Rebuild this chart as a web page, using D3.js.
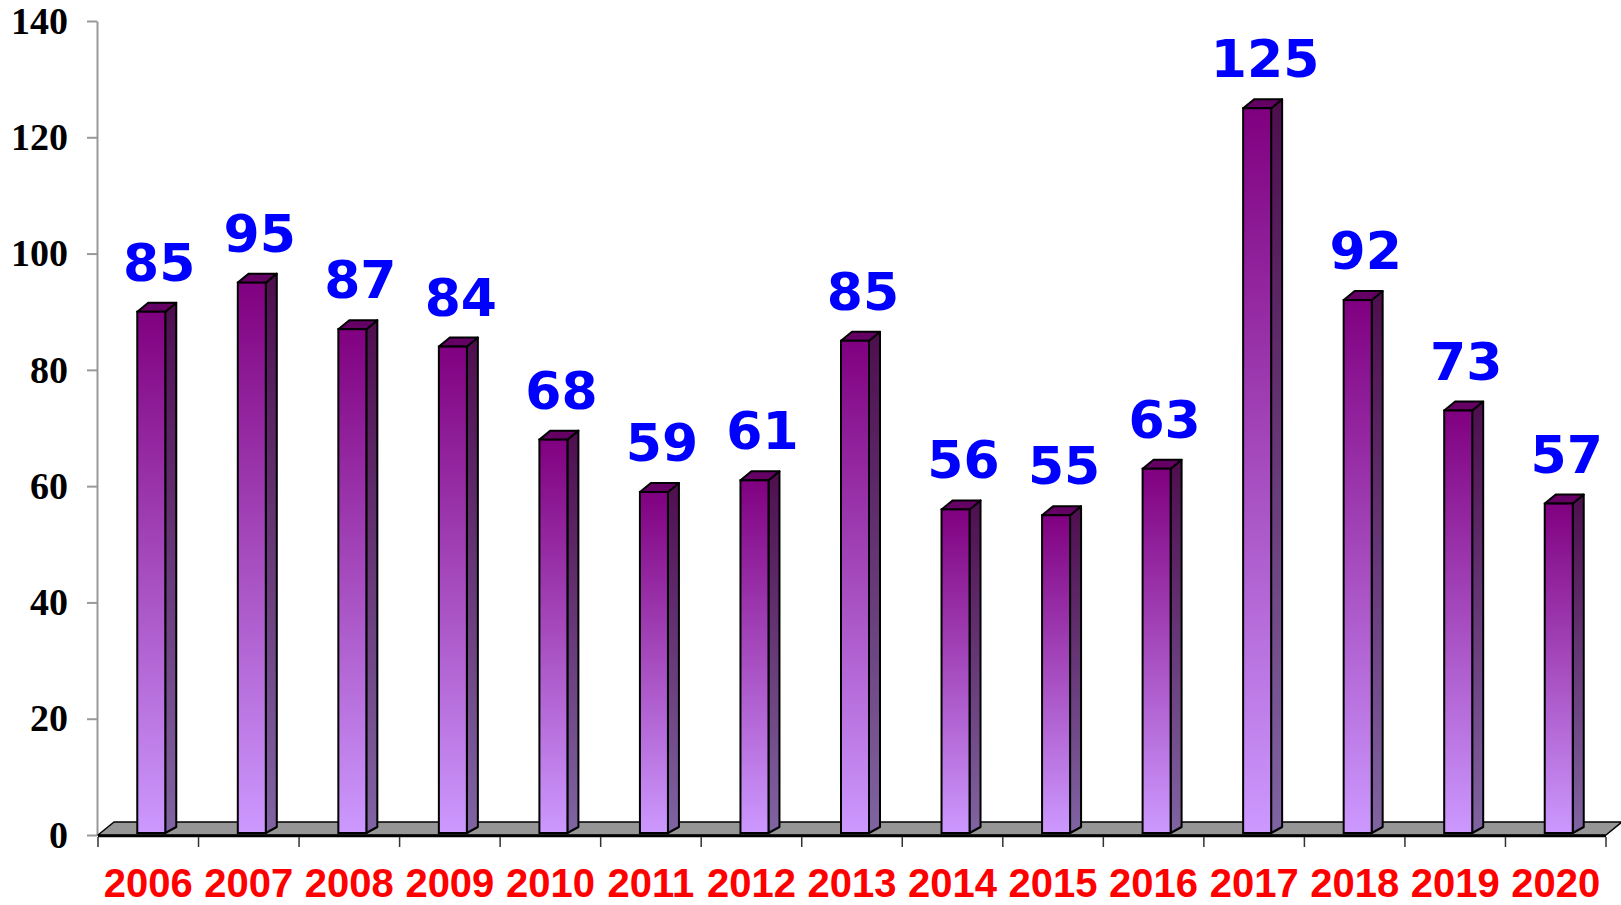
<!DOCTYPE html>
<html>
<head>
<meta charset="utf-8">
<script src="https://cdn.jsdelivr.net/npm/d3@7"></script>
<style>
html,body{margin:0;padding:0;background:#fff;}
svg{display:block;}
</style>
</head>
<body>
<svg id="chart" width="1621" height="905"></svg>
<script>
const years = ["2006","2007","2008","2009","2010","2011","2012","2013","2014","2015","2016","2017","2018","2019","2020"];
const barValues = [90,95,87,84,68,59,61,85,56,55,63,125,92,73,57];
const labelValues = [85,95,87,84,68,59,61,85,56,55,63,125,92,73,57];
const yTicks = [0,20,40,60,80,100,120,140];

const svg = d3.select("#chart");
const x0 = 98, x1 = 1606, yTop = 21, yBot = 835;
const x = d3.scaleBand().domain(years).range([x0, x1]).paddingInner(0).paddingOuter(0);
const y = d3.scaleLinear().domain([0, 140]).range([yBot, yTop]);

const defs = svg.append("defs");
const gFront = defs.append("linearGradient").attr("id","gFront").attr("x1",0).attr("y1",0).attr("x2",0).attr("y2",1);
gFront.append("stop").attr("offset","0%").attr("stop-color","#800080");
gFront.append("stop").attr("offset","100%").attr("stop-color","#CC99FF");
const gSide = defs.append("linearGradient").attr("id","gSide").attr("x1",0).attr("y1",0).attr("x2",0).attr("y2",1);
gSide.append("stop").attr("offset","0%").attr("stop-color","#4E0E4E");
gSide.append("stop").attr("offset","100%").attr("stop-color","#8064A2");

// Y axis
const yAxis = d3.axisLeft(y).tickValues(yTicks).tickSize(10).tickSizeOuter(0).tickPadding(19).tickFormat(d3.format("d"));
const ga = svg.append("g").attr("transform", `translate(${x0 - 1},0)`).call(yAxis);
ga.select(".domain").attr("stroke","#999").attr("stroke-width",2);
ga.selectAll(".tick line").attr("stroke","#999").attr("stroke-width",2);
ga.selectAll(".tick text").attr("fill","#000").style("font-family","'Liberation Serif','Times New Roman',serif")
  .style("font-weight","bold").style("font-size","38px");

// Floor
const fdx = 16, fdy = -13;
svg.append("path")
  .attr("d", `M${x0},${yBot} L${x0+fdx},${yBot+fdy} L${x1+fdx},${yBot+fdy} L${x1},${yBot} Z`)
  .attr("fill","#969696").attr("stroke","#000").attr("stroke-width",1.5).attr("stroke-linejoin","round");
svg.append("line").attr("x1",x0).attr("x2",x1).attr("y1",yBot+1).attr("y2",yBot+1)
  .attr("stroke","#000").attr("stroke-width",2.5);

// X axis ticks at band boundaries
const bounds = years.map(d => x(d)).concat([x1]);
svg.append("g").selectAll("line").data(bounds).join("line")
  .attr("x1", d => d).attr("x2", d => d).attr("y1", yBot+2).attr("y2", yBot+12)
  .attr("stroke","#333").attr("stroke-width",1.5);

// X labels
const xAxis = d3.axisBottom(x).tickSize(0).tickPadding(0);
const gx = svg.append("g").attr("transform",`translate(0,${yBot})`).call(xAxis);
gx.select(".domain").remove();
gx.selectAll(".tick text").attr("y", 62).attr("dy", 0)
  .attr("fill","#FF0000").style("font-family","'Liberation Sans',Arial,sans-serif")
  .style("font-weight","bold").style("font-size","40px");

// Bars
const bw = 28, dx = 11, dy = -9;
const bars = svg.append("g").selectAll("g").data(years.map((d,i)=>({year:d, v:barValues[i], lab:labelValues[i]}))).join("g");
bars.each(function(d){
  const g = d3.select(this);
  const xl = x(d.year) + (x.bandwidth() - bw)/2 + 3;
  const xr = xl + bw;
  const yt = y(d.v);
  const yb = y(0) - 2;
  g.append("path").attr("d", `M${xr},${yt} L${xr+dx},${yt+dy} L${xr+dx},${yb+dy+3} L${xr},${yb} Z`)
    .attr("fill","url(#gSide)").attr("stroke","#000").attr("stroke-width",2).attr("stroke-linejoin","round");
  g.append("path").attr("d", `M${xl},${yt} L${xl+dx},${yt+dy} L${xr+dx},${yt+dy} L${xr},${yt} Z`)
    .attr("fill","#650065").attr("stroke","#000").attr("stroke-width",2).attr("stroke-linejoin","round");
  g.append("rect").attr("x", xl).attr("y", yt).attr("width", bw).attr("height", yb - yt)
    .attr("fill","url(#gFront)").attr("stroke","#000").attr("stroke-width",2);
  g.append("text").attr("x", xl + bw/2 + 8).attr("y", yt - 31)
    .attr("text-anchor","middle").attr("fill","#0000FF")
    .style("font-family","'DejaVu Sans',Verdana,sans-serif").style("font-weight","bold").style("font-size","52px")
    .text(d.lab);
});
</script>
</body>
</html>
